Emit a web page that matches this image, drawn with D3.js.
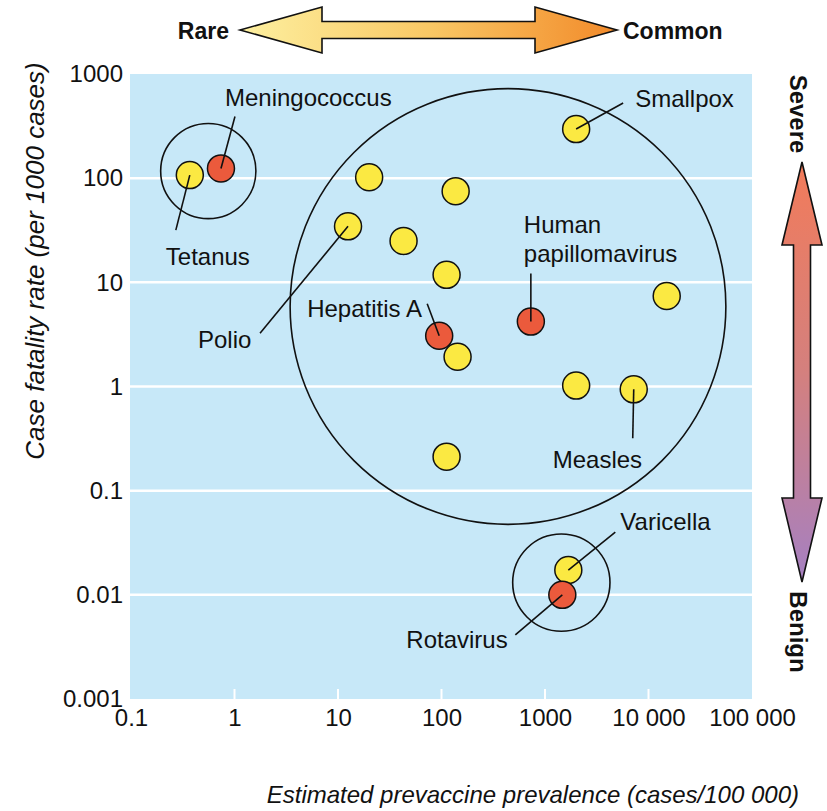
<!DOCTYPE html>
<html>
<head>
<meta charset="utf-8">
<script src="https://cdn.jsdelivr.net/npm/d3@7"></script>
<style>
  html, body { margin: 0; padding: 0; background: #ffffff; }
  svg { display: block; }
  text { font-family: "Liberation Sans", Arial, sans-serif; fill: #111; }
</style>
</head>
<body>
<svg id="chart" width="827" height="811"></svg>
<script>
// ---------------- DATA ----------------
const diseases   = ["Tetanus", "Meningococcus", "Smallpox", "Disease 4", "Disease 5", "Polio", "Disease 7",
                    "Disease 8", "Disease 9", "Hepatitis A", "Human papillomavirus", "Disease 12", "Disease 13",
                    "Measles", "Disease 15", "Varicella", "Rotavirus"];
const prevalence = [0.37, 0.74, 2000, 20, 137, 12.5, 43, 112, 15000, 95, 730, 143, 2000, 7200, 112, 1680, 1470];
const fatality   = [107, 124, 296, 102, 75, 34.5, 25, 11.8, 7.4, 3.07, 4.2, 1.93, 1.02, 0.94, 0.212, 0.0173, 0.01];
const highlighted = [false, true, false, false, false, false, false, false, false, true, true, false, false,
                     false, false, false, true];
const labelled   = ["Tetanus", "Meningococcus", "Smallpox", "Polio", "Hepatitis A", "Human papillomavirus",
                    "Measles", "Varicella", "Rotavirus"];

// enclosing group circles: centre in data units, radius in decades
const groupCentreX = [0.558, 439, 1438];
const groupCentreY = [117, 5.86, 0.0131];
const groupRadius  = [0.46, 2.105, 0.47];

const xTicks      = [0.1, 1, 10, 100, 1000, 10000, 100000];
const xTickLabels = ["0.1", "1", "10", "100", "1000", "10 000", "100 000"];
const yTicks      = [0.001, 0.01, 0.1, 1, 10, 100, 1000];
const yTickLabels = ["0.001", "0.01", "0.1", "1", "10", "100", "1000"];

const xTitle = "Estimated prevaccine prevalence (cases/100 000)";
const yTitle = "Case fatality rate (per 1000 cases)";
const topLeftLabel = "Rare", topRightLabel = "Common";
const sideTopLabel = "Severe", sideBottomLabel = "Benign";

// ---------------- LAYOUT ----------------
// label placement relative to point centre (text start / baseline, leader end)
const labelLayout = {
  "Tetanus":              { tx: -24,  ty: 90,  lx: -14,  ly: 55 },
  "Meningococcus":        { tx: 4,    ty: -62, lx: 14,   ly: -52 },
  "Smallpox":             { tx: 59,   ty: -22, lx: 47,   ly: -26 },
  "Polio":                { tx: -150, ty: 122, lx: -88,  ly: 107 },
  "Hepatitis A":          { tx: -132, ty: -19, lx: -12,  ly: -32 },
  "Human papillomavirus": { tx: -7,   ty: -89, lx: 0,    ly: -48, lines: ["Human", "papillomavirus"] },
  "Measles":              { tx: -81,  ty: 79,  lx: -1,   ly: 49 },
  "Varicella":            { tx: 52,   ty: -40, lx: 47,   ly: -38 },
  "Rotavirus":            { tx: -156, ty: 53,  lx: -47,  ly: 40 }
};

const plot = { left: 131, right: 752, top: 74, bottom: 699 };
const svg = d3.select("#chart");

const x = d3.scaleLog().domain([0.1, 100000]).range([plot.left, plot.right]);
const y = d3.scaleLog().domain([0.001, 1000]).range([plot.bottom, plot.top]);
const decadePx = (plot.right - plot.left) / 6;

// background
svg.append("rect")
  .attr("x", plot.left - 1).attr("y", plot.top)
  .attr("width", plot.right - plot.left + 1).attr("height", plot.bottom - plot.top)
  .attr("fill", "#c7e8f8");

// horizontal gridlines
svg.append("g").selectAll("line")
  .data(yTicks.slice(1, -1))
  .join("line")
  .attr("x1", plot.left - 1).attr("x2", plot.right)
  .attr("y1", d => y(d)).attr("y2", d => y(d))
  .attr("stroke", "#ffffff").attr("stroke-width", 2.5);

// short white ticks at bottom
svg.append("g").selectAll("line")
  .data(xTicks.slice(1, -1))
  .join("line")
  .attr("x1", d => x(d)).attr("x2", d => x(d))
  .attr("y1", plot.bottom - 10).attr("y2", plot.bottom)
  .attr("stroke", "#ffffff").attr("stroke-width", 2);

// axes (labels only)
const xAxis = d3.axisBottom(x).tickValues(xTicks)
  .tickFormat((d, i) => xTickLabels[i]).tickSize(0).tickPadding(10);
const gx = svg.append("g").attr("transform", `translate(0,${plot.bottom})`).call(xAxis);
gx.select(".domain").remove();
gx.selectAll("text").attr("font-size", 24).attr("font-family", "Liberation Sans, Arial, sans-serif").attr("fill", "#111");

const yAxis = d3.axisLeft(y).tickValues(yTicks)
  .tickFormat((d, i) => yTickLabels[i]).tickSize(0).tickPadding(8);
const gy = svg.append("g").attr("transform", `translate(${plot.left},0)`).call(yAxis);
gy.select(".domain").remove();
gy.selectAll("text").attr("font-size", 24).attr("font-family", "Liberation Sans, Arial, sans-serif").attr("fill", "#111");

// axis titles
svg.append("text")
  .attr("x", 799).attr("y", 803)
  .attr("text-anchor", "end")
  .attr("font-size", 24).attr("font-style", "italic")
  .text(xTitle);

svg.append("text")
  .attr("transform", "translate(35,261) rotate(-90)")
  .attr("text-anchor", "middle").attr("dominant-baseline", "central")
  .attr("font-size", 26).attr("font-style", "italic")
  .text(yTitle);

// group circles
svg.append("g").selectAll("circle")
  .data(d3.range(groupCentreX.length))
  .join("circle")
  .attr("cx", i => x(groupCentreX[i]))
  .attr("cy", i => y(groupCentreY[i]))
  .attr("r", i => groupRadius[i] * decadePx)
  .attr("fill", "none").attr("stroke", "#111").attr("stroke-width", 1.6);

// points
const pts = diseases.map((name, i) => ({ name, px: x(prevalence[i]), py: y(fatality[i]), hi: highlighted[i] }));
svg.append("g").selectAll("circle")
  .data(pts)
  .join("circle")
  .attr("cx", d => d.px).attr("cy", d => d.py).attr("r", 13.5)
  .attr("fill", d => d.hi ? "#eb5a3c" : "#fbe942")
  .attr("stroke", "#111").attr("stroke-width", 1.5);

// leader lines and labels
const lab = pts.filter(d => labelled.includes(d.name));
svg.append("g").selectAll("line")
  .data(lab)
  .join("line")
  .attr("x1", d => d.px).attr("y1", d => d.py)
  .attr("x2", d => d.px + labelLayout[d.name].lx)
  .attr("y2", d => d.py + labelLayout[d.name].ly)
  .attr("stroke", "#111").attr("stroke-width", 1.6);

const lt = svg.append("g").selectAll("text")
  .data(lab)
  .join("text")
  .attr("x", d => d.px + labelLayout[d.name].tx)
  .attr("y", d => d.py + labelLayout[d.name].ty)
  .attr("font-size", 24);
lt.each(function(d) {
  const L = labelLayout[d.name];
  const t = d3.select(this);
  if (L.lines) {
    L.lines.forEach((s, k) => t.append("tspan")
      .attr("x", d.px + L.tx).attr("dy", k === 0 ? 0 : 29).text(s));
  } else {
    t.text(d.name);
  }
});

// ---------------- ARROWS ----------------
const defs = svg.append("defs");
const g1 = defs.append("linearGradient").attr("id", "hgrad")
  .attr("x1", "0%").attr("x2", "100%").attr("y1", "0%").attr("y2", "0%");
g1.append("stop").attr("offset", "0%").attr("stop-color", "#fdf0a0");
g1.append("stop").attr("offset", "50%").attr("stop-color", "#f9c865");
g1.append("stop").attr("offset", "100%").attr("stop-color", "#f28a2a");
const g2 = defs.append("linearGradient").attr("id", "vgrad")
  .attr("x1", "0%").attr("x2", "0%").attr("y1", "0%").attr("y2", "100%");
g2.append("stop").attr("offset", "0%").attr("stop-color", "#f27b5a");
g2.append("stop").attr("offset", "50%").attr("stop-color", "#d4807e");
g2.append("stop").attr("offset", "100%").attr("stop-color", "#a580c2");

// horizontal double arrow
const ha = { x0: 240, b0: 322, b1: 535, x1: 617, cy: 30, hh: 23, sh: 8.5 };
const hpts = [
  [ha.x0, ha.cy], [ha.b0, ha.cy - ha.hh], [ha.b0, ha.cy - ha.sh], [ha.b1, ha.cy - ha.sh],
  [ha.b1, ha.cy - ha.hh], [ha.x1, ha.cy], [ha.b1, ha.cy + ha.hh], [ha.b1, ha.cy + ha.sh],
  [ha.b0, ha.cy + ha.sh], [ha.b0, ha.cy + ha.hh]
];
svg.append("path")
  .attr("d", d3.line()(hpts) + "Z")
  .attr("fill", "url(#hgrad)").attr("stroke", "#111").attr("stroke-width", 1.6)
  .attr("stroke-linejoin", "miter");

svg.append("text").attr("x", 229).attr("y", 39).attr("text-anchor", "end")
  .attr("font-size", 23).attr("font-weight", "bold").text(topLeftLabel);
svg.append("text").attr("x", 623).attr("y", 39).attr("text-anchor", "start")
  .attr("font-size", 23).attr("font-weight", "bold").text(topRightLabel);

// vertical double arrow
const va = { y0: 162, b0: 245, b1: 498, y1: 582, cx: 802, hw: 20, sw: 8.5 };
const vpts = [
  [va.cx, va.y0], [va.cx + va.hw, va.b0], [va.cx + va.sw, va.b0], [va.cx + va.sw, va.b1],
  [va.cx + va.hw, va.b1], [va.cx, va.y1], [va.cx - va.hw, va.b1], [va.cx - va.sw, va.b1],
  [va.cx - va.sw, va.b0], [va.cx - va.hw, va.b0]
];
svg.append("path")
  .attr("d", d3.line()(vpts) + "Z")
  .attr("fill", "url(#vgrad)").attr("stroke", "#111").attr("stroke-width", 1.6);

svg.append("text").attr("transform", "translate(798,114) rotate(90)")
  .attr("text-anchor", "middle").attr("dominant-baseline", "central")
  .attr("font-size", 24).attr("font-weight", "bold").text(sideTopLabel);
svg.append("text").attr("transform", "translate(798,632) rotate(90)")
  .attr("text-anchor", "middle").attr("dominant-baseline", "central")
  .attr("font-size", 24).attr("font-weight", "bold").text(sideBottomLabel);
</script>
</body>
</html>
